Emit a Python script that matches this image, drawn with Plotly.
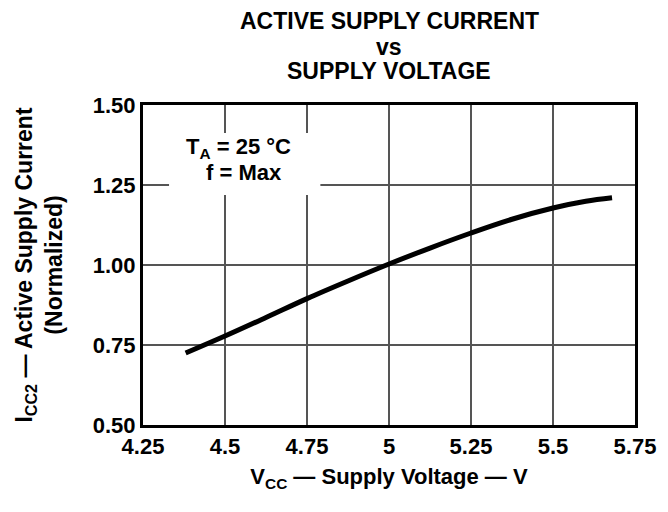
import plotly.graph_objects as go

# Data
vcc = [4.38, 4.5, 4.625, 4.75, 4.875, 5.0, 5.125, 5.25, 5.375, 5.5, 5.6, 5.68]
icc = [0.725, 0.778, 0.836, 0.895, 0.950, 1.003, 1.053, 1.100, 1.143, 1.178, 1.199, 1.210]

x_tickvals = [4.25, 4.5, 4.75, 5.0, 5.25, 5.5, 5.75]
x_ticktext = ["4.25", "4.5", "4.75", "5", "5.25", "5.5", "5.75"]
y_tickvals = [0.5, 0.75, 1.0, 1.25, 1.5]
y_ticktext = ["0.50", "0.75", "1.00", "1.25", "1.50"]

title_lines = ["ACTIVE SUPPLY CURRENT", "vs", "SUPPLY VOLTAGE"]
cond_lines = ["T<sub>A</sub> = 25 °C", "f = Max"]

FONT = "Liberation Sans, Arial, sans-serif"
FS = 22

fig = go.Figure()
fig.add_trace(go.Scatter(
    x=vcc, y=icc, mode="lines",
    line=dict(color="black", width=5, shape="spline"),
    hoverinfo="skip", showlegend=False,
))

# white box behind the conditions text (hides the grid there)
fig.add_shape(
    type="rect", xref="x", yref="y",
    x0=4.3294, x1=4.7908, y0=1.21875, y1=1.4125,
    fillcolor="white", line=dict(width=0), layer="between",
)

for line, xpos, ypos in zip(cond_lines, [4.540, 4.557], [1.3650, 1.2885]):
    fig.add_annotation(
        x=xpos, y=ypos, xref="x", yref="y",
        text=f"<b>{line}</b>", showarrow=False,
        xanchor="center", yanchor="middle",
        font=dict(family=FONT, size=FS, color="black"),
    )

for line, ypos in zip(title_lines, [1.2640, 1.1810, 1.1060]):
    fig.add_annotation(
        x=0.5, y=ypos, xref="paper", yref="paper",
        text=f"<b>{line}</b>", showarrow=False,
        xanchor="center", yanchor="middle",
        font=dict(family=FONT, size=23, color="black"),
    )

fig.update_layout(
    width=668, height=512,
    margin=dict(l=135, r=41, t=97, b=95),
    paper_bgcolor="white", plot_bgcolor="white",
    font=dict(family=FONT, size=FS, color="black"),
    xaxis=dict(
        range=[4.25, 5.75], tickvals=x_tickvals, ticktext=[f"<b>{t}</b>" for t in x_ticktext],
        showgrid=True, gridcolor="#555", gridwidth=1.5,
        showline=True, linecolor="black", linewidth=3, mirror=True,
        ticks="", zeroline=False, fixedrange=True, automargin=False,
        title=dict(text="<b>V<sub>CC</sub> — Supply Voltage — V</b>", standoff=11,
                   font=dict(family=FONT, size=FS)),
        tickfont=dict(family=FONT, size=FS),
    ),
    yaxis=dict(
        range=[0.5, 1.5], tickvals=y_tickvals, ticktext=[f"<b>{t}</b>" for t in y_ticktext],
        showgrid=True, gridcolor="#555", gridwidth=1.5,
        showline=True, linecolor="black", linewidth=3, mirror=True,
        ticks="", zeroline=False, fixedrange=True, automargin=False,
        title=dict(text="<b>I<sub>CC2</sub> — Active Supply Current<br>(Normalized)</b>", standoff=24,
                   font=dict(family=FONT, size=23)),
        tickfont=dict(family=FONT, size=FS),
    ),
)

fig.write_html("out.html")
